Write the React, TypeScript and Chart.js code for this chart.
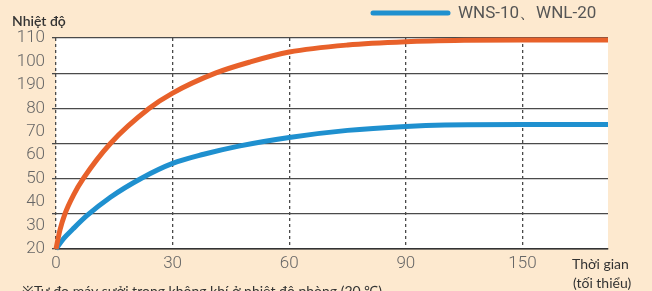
import { useEffect, useRef } from 'react';
import { Chart, registerables } from 'chart.js';

Chart.register(...registerables);

// X axis: category minutes placed at equal spacing
const xCategories = [0, 30, 60, 90, 150];
const xTickLabels = ['0', '30', '60', '90', '150'];
const xEndMinutes = 194;

// Y axis
const yMin = 20;
const yMax = 110;
const yTickValues = [20, 30, 40, 50, 60, 70, 80, 90, 100, 110];
const yTickLabels = ['20', '30', '40', '50', '60', '70', '80', '190', '100', '110'];
const yGridValues = [20, 35, 50, 65, 80, 95, 110];

// Orange series (upper curve)
const orangeMinutes = [0, 1, 2.3, 4.5, 7, 14, 24, 30, 41, 50, 60, 75, 90, 120, 150, 194];
const orangeTemps = [20, 28, 35, 43, 50, 65, 80, 86.5, 95, 99.8, 104, 107, 108.4, 109, 109.2, 109.2];

// Blue series (lower curve)
const blueLabel = 'WNS-10、WNL-20';
const blueMinutes = [0, 2, 4.4, 8, 14, 22, 30, 38, 47, 60, 75, 90, 110, 150, 194];
const blueTemps = [20, 24.5, 28.6, 34.3, 42.1, 50.2, 56.5, 60.4, 63.9, 67.6, 70.6, 72.3, 72.9, 73.1, 73.1];

const yAxisTitle = 'Nhiệt độ';
const xAxisTitle = ['Thời gian', '(tối thiểu)'];
const footNote = '※Tự đo máy sưởi trong không khí ở nhiệt độ phòng (20 ℃)';

const BG = '#fde9cf';
const ORANGE = '#e8612a';
const BLUE = '#1f90cf';
const GRID = '#4a4a4a';

function toAxis(m: number): number {
  for (let i = 1; i < xCategories.length; i++) {
    if (m <= xCategories[i]) {
      const a = xCategories[i - 1];
      const b = xCategories[i];
      return i - 1 + (m - a) / (b - a);
    }
  }
  const n = xCategories.length;
  const step = xCategories[n - 1] - xCategories[n - 2];
  return n - 1 + (m - xCategories[n - 1]) / step;
}

export default function App() {
  const ref = useRef<HTMLCanvasElement | null>(null);

  useEffect(() => {
    document.body.style.margin = '0';
    const canvas = ref.current;
    if (!canvas) return;

    const decor = {
      id: 'decor',
      beforeDraw(chart: any) {
        const { ctx, chartArea } = chart;
        ctx.save();
        ctx.fillStyle = BG;
        ctx.fillRect(0, 0, chart.width, chart.height);
        ctx.fillStyle = '#ffffff';
        ctx.fillRect(chartArea.left, chartArea.top, chartArea.right - chartArea.left, chartArea.bottom - chartArea.top);
        ctx.restore();
      },
      afterDraw(chart: any) {
        const { ctx } = chart;
        ctx.save();
        ctx.textBaseline = 'middle';
        ctx.textAlign = 'left';
        ctx.fillStyle = '#333';
        ctx.font = '600 14px Lato';
        ctx.fillText(yAxisTitle, 12, 21);

        // legend
        ctx.strokeStyle = BLUE;
        ctx.lineWidth = 5;
        ctx.lineCap = 'round';
        ctx.beginPath();
        ctx.moveTo(373, 13);
        ctx.lineTo(448, 13);
        ctx.stroke();
        ctx.fillStyle = '#555';
        ctx.font = '17px Roboto';
        ctx.fillText(blueLabel, 458, 14);

        ctx.fillStyle = '#333';
        ctx.font = '14px Lato';
        ctx.fillText(xAxisTitle[0], 572, 264);
        ctx.fillText(xAxisTitle[1], 573, 283);

        ctx.textBaseline = 'top';
        ctx.fillText(footNote, 22, 284);
        ctx.restore();
      },
    };

    const chart = new Chart(canvas, {
      type: 'line',
      data: {
        datasets: [
          {
            label: 'orange',
            data: orangeMinutes.map((m, i) => ({ x: toAxis(m), y: orangeTemps[i] })),
            borderColor: ORANGE,
            borderWidth: 5,
            pointRadius: 0,
            cubicInterpolationMode: 'monotone',
            clip: false as any,
          },
          {
            label: blueLabel,
            data: blueMinutes.map((m, i) => ({ x: toAxis(m), y: blueTemps[i] })),
            borderColor: BLUE,
            borderWidth: 5,
            pointRadius: 0,
            cubicInterpolationMode: 'monotone',
            clip: false as any,
          },
        ],
      },
      options: {
        animation: false,
        responsive: false,
        layout: { padding: { top: 38, right: 44, left: 0, bottom: 0 } },
        plugins: { legend: { display: false }, tooltip: { enabled: false } },
        scales: {
          x: {
            type: 'linear',
            min: 0,
            max: toAxis(xEndMinutes),
            afterBuildTicks: (scale: any) => {
              scale.ticks = xCategories.map((_, i) => ({ value: i }));
            },
            afterFit: (scale: any) => {
              scale.height = 42;
            },
            ticks: {
              callback: (v: any) => xTickLabels[v] ?? '',
              color: '#666',
              font: { size: 17, family: 'Roboto', weight: 300 as any },
              padding: 5,
              autoSkip: false,
              maxRotation: 0,
            },
            grid: { color: GRID, lineWidth: 1.3, drawTicks: false },
            border: { display: true, color: '#333', width: 1.6, dash: [3, 3] },
          },
          y: {
            type: 'linear',
            min: yMin,
            max: yMax,
            afterBuildTicks: (scale: any) => {
              const t: any[] = [];
              for (let v = yMin; v <= yMax; v += 5) t.push({ value: v });
              scale.ticks = t;
            },
            afterFit: (scale: any) => {
              scale.width = 56;
            },
            ticks: {
              callback: (v: any) => {
                const i = yTickValues.indexOf(v);
                return i >= 0 ? yTickLabels[i] : '';
              },
              color: '#666',
              font: { size: 17, family: 'Roboto', weight: 300 as any },
              padding: 7,
              autoSkip: false,
            },
            grid: {
              color: (c: any) => (yGridValues.includes(c.tick?.value) ? GRID : 'rgba(0,0,0,0)'),
              lineWidth: 1.3,
              tickLength: 4,
            },
            border: { display: false },
          },
        },
      },
      plugins: [decor],
    });

    return () => chart.destroy();
  }, []);

  return (
    <div style={{ width: 652, height: 291, position: 'relative' }}>
      <canvas ref={ref} width={652} height={291} style={{ display: 'block' }} />
    </div>
  );
}
